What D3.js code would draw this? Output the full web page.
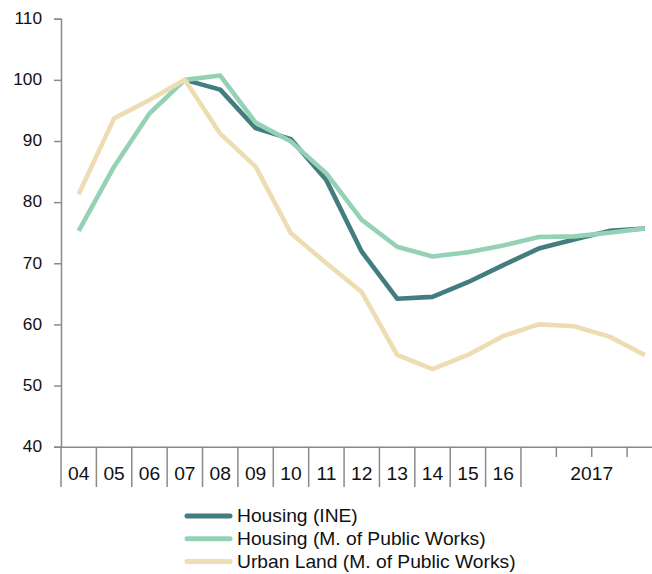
<!DOCTYPE html>
<html>
<head>
<meta charset="utf-8">
<script src="https://cdn.jsdelivr.net/npm/d3@7"></script>
<style>
  html, body { margin: 0; padding: 0; background: #fff; }
  svg { display: block; }
  text { font-family: "Liberation Sans", Arial, sans-serif; fill: #111; }
</style>
</head>
<body>
<svg id="chart" width="652" height="574"></svg>
<script>
// Price indices, 2007 = 100: annual 2004-2016, then the four quarters of 2017
const categories = ["04","05","06","07","08","09","10","11","12","13","14","15","16",
                    "2017Q1","2017Q2","2017Q3","2017Q4"];
const yearLabels = ["04","05","06","07","08","09","10","11","12","13","14","15","16"];
const quarterCats = ["2017Q1","2017Q2","2017Q3","2017Q4"];
const groupLabel = "2017";
const yTicks = [40, 50, 60, 70, 80, 90, 100, 110];

const housingINE = [null, null, null, 100, 98.4, 92.1, 90.3, 83.6, 71.9, 64.2, 64.5, 66.9, 69.7,
                    72.4, 73.9, 75.3, 75.7];
const housingMPW = [75.3, 85.8, 94.5, 100, 100.7, 93.0, 89.9, 84.7, 77.1, 72.7, 71.1, 71.8, 72.9,
                    74.3, 74.4, 75.0, 75.7];
const urbanLand  = [81.3, 93.7, 96.7, 100, 91.2, 85.8, 74.9, 70.0, 65.3, 55.0, 52.7, 55.0, 58.1,
                    60.0, 59.7, 58.0, 55.0];

const seriesNames = ["Housing (INE)", "Housing (M. of Public Works)", "Urban Land (M. of Public Works)"];
const seriesColors = ["#437d7e", "#95d2b5", "#eedcb2"];
const seriesValues = [housingINE, housingMPW, urbanLand];

const svg = d3.select("#chart");
const axisColor = "#8a8a8a";

const x = d3.scaleBand().domain(categories).range([61, 662.5]).padding(0);
const y = d3.scaleLinear().domain([40, 110]).range([446.7, 18.7]);
const axisY = y(40);

// Y axis
const yStretch = 1.08;
const gy = svg.append("g").attr("transform", `translate(${x.range()[0]},0)`)
  .call(d3.axisLeft(y).tickValues(yTicks).tickSize(7).tickFormat(d3.format("d")));
gy.select(".domain").attr("stroke", axisColor).attr("stroke-width", 1.5);
gy.selectAll(".tick line").attr("stroke", axisColor).attr("stroke-width", 1.5);
gy.selectAll(".tick text")
  .attr("x", -19 / yStretch).attr("dy", "0.3em")
  .attr("transform", `scale(${yStretch},1)`)
  .style("font-size", "16px").attr("fill", "#111");

// X axis: category labels centred in each band
const xStretch = 1.1;
const gx = svg.append("g").attr("transform", `translate(0,${axisY})`)
  .call(d3.axisBottom(x).tickValues(yearLabels).tickSize(0).tickPadding(0));
gx.select(".domain").attr("stroke", axisColor).attr("stroke-width", 1.5);
gx.selectAll(".tick text")
  .attr("y", 0).attr("dy", 0)
  .attr("transform", `translate(0,33.5) scale(${xStretch},1)`)
  .style("font-size", "17.5px").attr("fill", "#111");

// Band dividers: long between years, short between quarters
const bw = x.bandwidth();
const longDiv = yearLabels.map(c => x(c)).concat([x(quarterCats[0])]);
const shortDiv = quarterCats.slice(1).map(c => x(c)).concat([x(quarterCats[3]) + bw]);
svg.append("g").selectAll("line").data(longDiv).join("line")
  .attr("x1", d => d).attr("x2", d => d)
  .attr("y1", axisY).attr("y2", 487)
  .attr("stroke", axisColor).attr("stroke-width", 1.5);
svg.append("g").selectAll("line").data(shortDiv).join("line")
  .attr("x1", d => d).attr("x2", d => d)
  .attr("y1", axisY).attr("y2", 457)
  .attr("stroke", axisColor).attr("stroke-width", 1.5);

// Group label for the quarterly part
const gCenter = (x(quarterCats[0]) + x(quarterCats[3]) + bw) / 2;
svg.append("text")
  .attr("transform", `translate(${gCenter},${axisY + 33.5}) scale(${xStretch},1)`)
  .attr("text-anchor", "middle").style("font-size", "17.5px")
  .text(groupLabel);

// Lines
const line = d3.line()
  .defined(d => d.v != null)
  .x(d => x(d.c) + bw / 2)
  .y(d => y(d.v));

seriesValues.forEach((vals, i) => {
  const pts = categories.map((c, j) => ({ c, v: vals[j] }));
  svg.append("path")
    .datum(pts)
    .attr("fill", "none")
    .attr("stroke", seriesColors[i])
    .attr("stroke-width", 4.6)
    .attr("stroke-linejoin", "round")
    .attr("d", line);
});

// Legend
const legend = svg.append("g");
seriesNames.forEach((name, i) => {
  const ly = 516 + i * 22.8;
  legend.append("line")
    .attr("x1", 187).attr("x2", 230)
    .attr("y1", ly).attr("y2", ly)
    .attr("stroke", seriesColors[i]).attr("stroke-width", 5)
    .attr("stroke-linecap", "round");
  legend.append("text")
    .attr("transform", `translate(237,${ly + 6}) scale(1.1,1)`)
    .style("font-size", "17.5px")
    .text(name);
});
</script>
</body>
</html>
